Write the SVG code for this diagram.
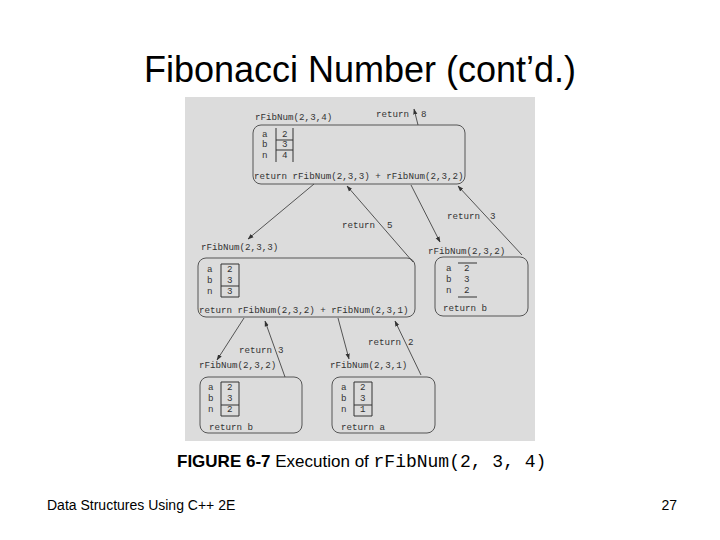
<svg xmlns="http://www.w3.org/2000/svg" width="720" height="540" viewBox="0 0 720 540">
<style>
.title{font-family:"Liberation Sans",Arial,sans-serif;font-size:36px;fill:#000}
.m{font-family:"Liberation Mono","Courier New",monospace;font-size:9.2px;fill:#333}
.box{fill:none;stroke:#555;stroke-width:1}
.tbl{stroke:#333;stroke-width:1;fill:none}
.con{stroke:#444;stroke-width:0.9;fill:none;marker-end:url(#ah)}
.cap{font-family:"Liberation Sans",Arial,sans-serif;font-size:17px;fill:#000}
.capm{font-family:"Liberation Mono","Courier New",monospace;font-size:18px;fill:#000}
.foot{font-family:"Liberation Sans",Arial,sans-serif;font-size:14px;fill:#000}
</style>
<defs>
<marker id="ah" viewBox="0 0 10 10" refX="9" refY="5" markerWidth="6" markerHeight="6" orient="auto" markerUnits="userSpaceOnUse">
<path d="M0,1.5 L10,5 L0,8.5 z" fill="#333"/>
</marker>
</defs>
<rect width="720" height="540" fill="#fff"/>
<text class="title" x="360" y="82" text-anchor="middle">Fibonacci Number (cont’d.)</text>
<rect x="185" y="97" width="350" height="344" fill="#dcdcdc"/>

<g id="n1">
<text class="m" x="255" y="120">rFibNum(2,3,4)</text>
<rect class="box" x="253" y="125" width="212" height="59" rx="8"/>
<text class="m" x="262" y="137">a</text><text class="m" x="262" y="147">b</text><text class="m" x="262" y="158">n</text>
<path class="tbl" d="M276,128 V162 M293,128 V162 M276,140 H293 M276,150 H293"/>
<text class="m" x="282" y="137">2</text><text class="m" x="282" y="147">3</text><text class="m" x="282" y="158">4</text>
<text class="m" x="254" y="179">return rFibNum(2,3,3) + rFibNum(2,3,2)</text>
</g>

<g id="n2">
<text class="m" x="201" y="250">rFibNum(2,3,3)</text>
<rect class="box" x="198" y="258" width="217" height="59" rx="8"/>
<text class="m" x="207" y="272">a</text><text class="m" x="207" y="283">b</text><text class="m" x="207" y="294">n</text>
<path class="tbl" d="M221,264 V297 M239,264 V297 M221,264 H239 M221,286 H239 M221,297 H239"/>
<text class="m" x="227" y="272">2</text><text class="m" x="227" y="283">3</text><text class="m" x="227" y="294">3</text>
<text class="m" x="199" y="313">return rFibNum(2,3,2) + rFibNum(2,3,1)</text>
</g>

<g id="n3">
<text class="m" x="428" y="254">rFibNum(2,3,2)</text>
<rect class="box" x="435" y="257" width="93" height="59" rx="8"/>
<text class="m" x="446" y="271">a</text><text class="m" x="446" y="282">b</text><text class="m" x="446" y="293">n</text>
<path class="tbl" d="M458,263 H477 M458,297 H477"/>
<text class="m" x="464" y="271">2</text><text class="m" x="464" y="282">3</text><text class="m" x="464" y="293">2</text>
<text class="m" x="443" y="311">return b</text>
</g>

<g id="n4">
<text class="m" x="199" y="368">rFibNum(2,3,2)</text>
<rect class="box" x="200" y="377" width="102" height="56" rx="8"/>
<text class="m" x="208" y="390">a</text><text class="m" x="208" y="401">b</text><text class="m" x="208" y="412">n</text>
<path class="tbl" d="M221,382 V416 M239,382 V416 M221,382 H239 M221,405 H239 M221,416 H239"/>
<text class="m" x="227" y="390">2</text><text class="m" x="227" y="401">3</text><text class="m" x="227" y="412">2</text>
<text class="m" x="209" y="430">return b</text>
</g>

<g id="n5">
<text class="m" x="330" y="368">rFibNum(2,3,1)</text>
<rect class="box" x="332" y="377" width="103" height="56" rx="8"/>
<text class="m" x="341" y="390">a</text><text class="m" x="341" y="401">b</text><text class="m" x="341" y="412">n</text>
<path class="tbl" d="M354,382 V416 M372,382 V416 M354,382 H372 M354,405 H372 M354,416 H372"/>
<text class="m" x="360" y="390">2</text><text class="m" x="360" y="401">3</text><text class="m" x="360" y="412">1</text>
<text class="m" x="341" y="430">return a</text>
</g>

<g id="connectors">
<line class="con" x1="418" y1="125" x2="414" y2="109"/>
<line class="con" x1="314" y1="184" x2="248" y2="239"/>
<line class="con" x1="413" y1="262" x2="347" y2="186"/>
<line class="con" x1="411" y1="185" x2="440" y2="242"/>
<line class="con" x1="522" y1="255" x2="458" y2="186"/>
<line class="con" x1="244" y1="318" x2="217" y2="360"/>
<line class="con" x1="285" y1="377" x2="265" y2="321"/>
<line class="con" x1="338" y1="318" x2="349" y2="359"/>
<line class="con" x1="421" y1="375" x2="395" y2="321"/>
<text class="m" x="376" y="117">return</text><text class="m" x="421" y="117">8</text>
<text class="m" x="342" y="228">return</text><text class="m" x="387" y="228">5</text>
<text class="m" x="447" y="219">return</text><text class="m" x="490" y="219">3</text>
<text class="m" x="239" y="353">return</text><text class="m" x="278" y="353">3</text>
<text class="m" x="368" y="345">return</text><text class="m" x="408" y="345">2</text>
</g>

<text x="177" y="467"><tspan class="cap" font-weight="bold">FIGURE 6-7</tspan><tspan class="cap"> Execution of </tspan><tspan class="capm">rFibNum(2, 3, 4)</tspan></text>
<text class="foot" x="47" y="510">Data Structures Using C++ 2E</text>
<text class="foot" x="677" y="510" text-anchor="end">27</text>
</svg>
